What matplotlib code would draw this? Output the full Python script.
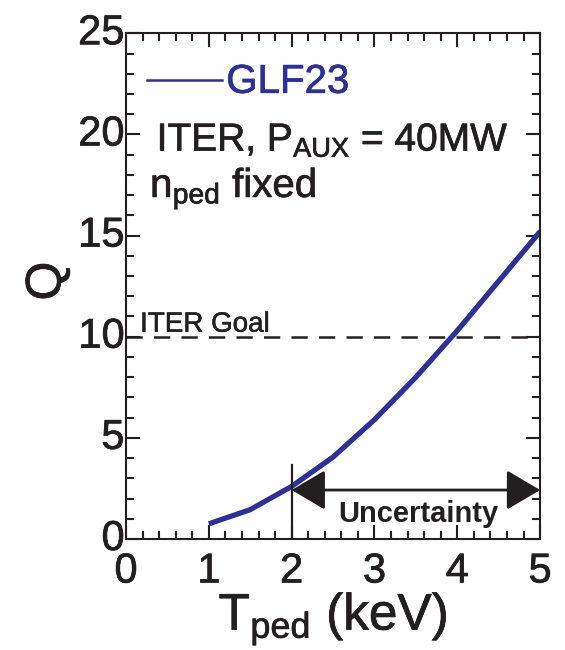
import matplotlib.pyplot as plt
import matplotlib.transforms as mtransforms
import matplotlib.patheffects as pe
from matplotlib.ticker import MultipleLocator

plt.rcParams['font.family'] = ['Liberation Sans', 'DejaVu Sans']
plt.rcParams['mathtext.fontset'] = 'custom'
plt.rcParams['mathtext.rm'] = 'Liberation Sans'
plt.rcParams['mathtext.it'] = 'Liberation Sans:italic'
plt.rcParams['mathtext.bf'] = 'Liberation Sans:bold'

# GLF23 prediction of Q vs pedestal temperature
t_ped = [1.0, 1.5, 2.0, 2.5, 3.0, 3.5, 4.0, 4.5, 5.0]
q_glf23 = [0.75, 1.45, 2.6, 4.05, 5.9, 8.0, 10.3, 12.75, 15.2]
iter_goal = 10
t_low = 2
t_high = 5
x_ticks = [0, 1, 2, 3, 4, 5]
y_ticks = [0, 5, 10, 15, 20, 25]

ink = '#231f20'
blue = '#2e3192'
heavy_ink = [pe.withStroke(linewidth=0.5, foreground=ink)]
heavy_blue = [pe.withStroke(linewidth=0.5, foreground=blue)]

fig = plt.figure(figsize=(5.65, 6.5), dpi=100)
ax = fig.add_axes([0.223, 0.1708, 0.733, 0.778])

ax.plot(t_ped, q_glf23, color=blue, lw=3.8, solid_capstyle='butt')
ax.axhline(iter_goal, color=ink, lw=1.8, linestyle=(0, (6.5, 4.5)))
ax.plot([t_low, t_low], [0, 3.65], color=ink, lw=1.6)
ax.annotate('', xy=(t_high, 2.42), xytext=(t_low, 2.42),
            arrowprops=dict(arrowstyle='<|-|>,head_length=1.05,head_width=0.62',
                            mutation_scale=20, lw=2, color=ink,
                            shrinkA=0, shrinkB=0))

# legend-like label
ax.plot([0.25, 1.16], [22.7, 22.7], color=blue, lw=1.8)
ax.text(1.21, 22.6, 'GLF23', color=blue, fontsize=29, va='center', ha='left',
        path_effects=heavy_blue)
ax.text(0.37, 19.2, r'ITER, P$_{\mathrm{AUX}}$ = 40MW', color=ink, fontsize=28,
        va='baseline', ha='left', path_effects=heavy_ink)
ax.text(0.29, 16.9, r'$\mathrm{n_{ped}}$ fixed', color=ink, fontsize=29,
        va='baseline', ha='left', path_effects=heavy_ink)
ax.text(0.17, 10.25, 'ITER Goal', color=ink, fontsize=20, va='baseline', ha='left',
        path_effects=[pe.withStroke(linewidth=0.4, foreground=ink)])
ax.text(3.53, 0.84, 'Uncertainty', color=ink, fontsize=21, fontweight='bold',
        va='baseline', ha='center')

ax.set_xlim(0, 5)
ax.set_ylim(0, 25)
ax.set_xticks(x_ticks)
ax.set_yticks(y_ticks)
ax.xaxis.set_minor_locator(MultipleLocator(0.2))
ax.yaxis.set_minor_locator(MultipleLocator(1))
ax.tick_params(which='both', direction='in', top=True, right=True,
               width=1.5, color=ink)
ax.tick_params(which='major', length=10)
ax.tick_params(which='minor', length=5.5)
ax.tick_params(axis='x', labelsize=30, pad=9, labelcolor=ink)
ax.tick_params(axis='y', labelsize=30, pad=1, labelcolor=ink)
# y tick numbers sit a little above their ticks
lift = mtransforms.ScaledTranslation(0, 0.045, fig.dpi_scale_trans)
for tk in ax.yaxis.get_major_ticks():
    tk.label1.set_transform(tk.label1.get_transform() + lift)
for lab in ax.get_xticklabels() + ax.get_yticklabels():
    lab.set_path_effects(heavy_ink)
for s in ax.spines.values():
    s.set_linewidth(1.5)
    s.set_color(ink)

ax.set_ylabel('Q', fontsize=36, color=ink, path_effects=heavy_ink)
ax.yaxis.set_label_coords(-0.134, 0.51)
ax.set_xlabel(r'T$_{\mathrm{ped}}$ (keV)', fontsize=37, color=ink,
              path_effects=heavy_ink)
ax.xaxis.set_label_coords(0.5, -0.1)

fig.savefig('out.png', dpi=100)
